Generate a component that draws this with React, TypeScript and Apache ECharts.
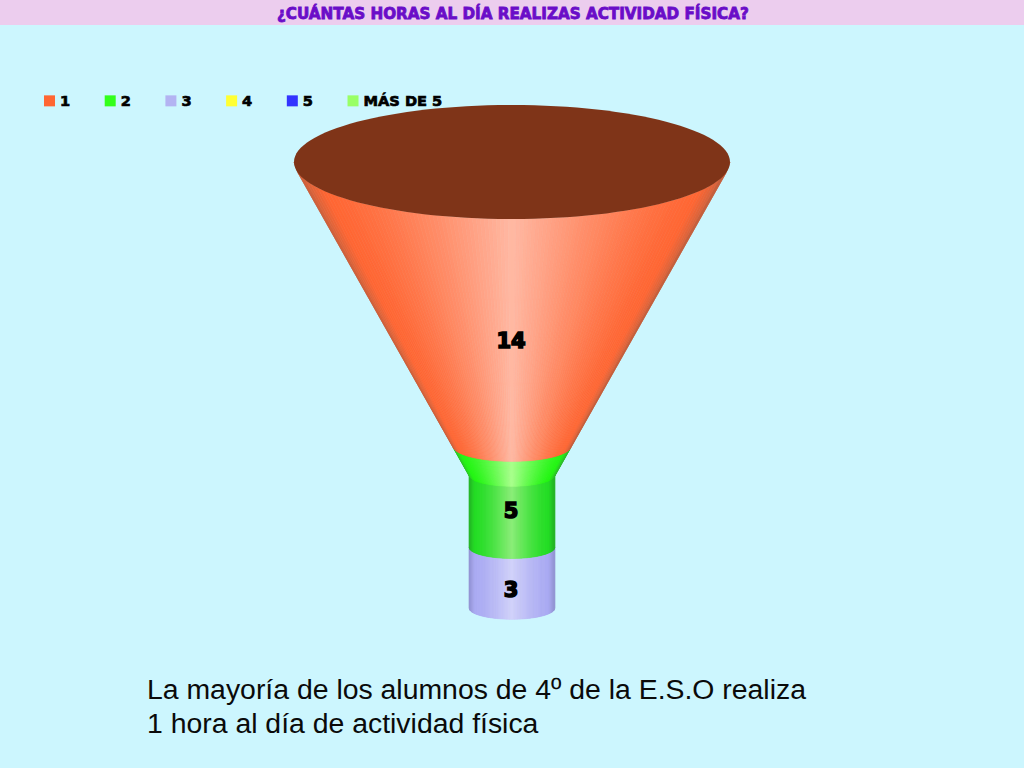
import React, { useEffect, useRef } from "react";
import * as echarts from "echarts";

const titleText = "¿CUÁNTAS HORAS AL DÍA REALIZAS ACTIVIDAD FÍSICA?";
const noteLines = [
  "La mayoría de los alumnos de 4º de la E.S.O realiza",
  "1 hora al día de actividad física",
];
const categories = ["1", "2", "3", "4", "5", "MÁS DE 5"];
const counts = [14, 5, 3, 0, 0, 0];
const swatchColors = ["#ff6633", "#33ff1a", "#b3b3f2", "#ffff33", "#3333ff", "#99ff66"];
// [edge, body, highlight] shading of each cylinder/cone surface
const coneShades = [
  ["#c0603f", "#ff6633", "#ffb9a4"],
  ["#2fb82f", "#22f511", "#aaff8c"],
  ["#9090d0", "#aaaaf2", "#d2d2fa"],
  ["#c0c020", "#ffff33", "#ffffa0"],
  ["#2020b0", "#3333ff", "#9090ff"],
  ["#70c050", "#99ff66", "#d0ffb0"],
];
const neckShades = [
  ["#c0603f", "#ff6633", "#ffb9a4"],
  ["#22b022", "#22dd22", "#8ced78"],
  ["#9090d0", "#aaaaf2", "#d2d2fa"],
  ["#c0c020", "#ffff33", "#ffffa0"],
  ["#2020b0", "#3333ff", "#9090ff"],
  ["#70c050", "#99ff66", "#d0ffb0"],
];

const NECK_RATIO = 0.197; // neck radius / mouth radius
const NECK_START = 15.44; // value at which the cone becomes the neck
const TILT = 0.2615; // ellipse ry / rx
const STRIPS = 110;

function hex(c: string) {
  return [1, 3, 5].map((i) => parseInt(c.slice(i, i + 2), 16));
}
function mix(a: string, b: string, k: number) {
  const A = hex(a);
  const B = hex(b);
  return `rgb(${A.map((v, i) => Math.round(v + (B[i] - v) * k)).join(",")})`;
}
function shadeAt(t: number, s: string[]) {
  const u = Math.abs(t);
  if (u > 0.86) return mix(s[1], s[0], (u - 0.86) / 0.14);
  const k = 1 - u / 0.86;
  return mix(s[1], s[2], Math.pow(k, 1.4));
}
function radiusAt(v: number) {
  if (v >= NECK_START) return NECK_RATIO;
  return 1 - ((1 - NECK_RATIO) * v) / NECK_START;
}

function frustum(cx: number, unit: number, y0: number, r0: number, y1: number, r1: number, shades: string[]) {
  const out: any[] = [];
  const R0 = r0 * unit;
  const R1 = r1 * unit;
  const rim = (R: number, y: number, t: number) => [cx + R * t, y + R * TILT * Math.sqrt(Math.max(0, 1 - t * t))];
  for (let i = 0; i < STRIPS; i++) {
    const a = -1 + (2 * i) / STRIPS;
    const b = -1 + (2 * (i + 1)) / STRIPS;
    const color = shadeAt((a + b) / 2, shades);
    out.push({
      type: "polygon",
      shape: { points: [rim(R0, y0, a), rim(R0, y0, b), rim(R1, y1, b), rim(R1, y1, a)] },
      style: { fill: color, stroke: color, lineWidth: 0.7 },
      silent: true,
    });
  }
  return out;
}

function makeRender(index: number) {
  return (_params: any, api: any) => {
    const start = api.value(0);
    const end = api.value(1);
    const count = api.value(2);
    if (!count) return { type: "group", children: [] };
    const cx = api.coord([0, 0])[0];
    const unit = api.coord([1, 0])[0] - cx;
    const yOf = (v: number) => api.coord([0, v])[1];
    const children: any[] = [];
    const parts: [number, number, string[]][] = [];
    if (start < NECK_START && end > NECK_START) {
      parts.push([start, NECK_START, coneShades[index]]);
      parts.push([NECK_START, end, neckShades[index]]);
    } else {
      parts.push([start, end, start >= NECK_START ? neckShades[index] : coneShades[index]]);
    }
    parts.reverse().forEach(([a, b, s]) => {
      children.push(...frustum(cx, unit, yOf(a), radiusAt(a), yOf(b), radiusAt(b), s));
    });
    if (start === 0) {
      children.push({
        type: "ellipse",
        shape: { cx, cy: yOf(0), rx: unit, ry: unit * TILT },
        style: { fill: "#7f3418" },
        silent: true,
      });
    }
    const front0 = yOf(start) + radiusAt(start) * unit * TILT;
    const front1 = yOf(end) + radiusAt(end) * unit * TILT;
    children.push({
      type: "text",
      style: {
        text: String(count),
        x: cx - 1,
        y: (front0 + front1) / 2 + 1,
        align: "center",
        verticalAlign: "middle",
        font: "bold 21px 'DejaVu Sans'",
        fill: "#000",
        stroke: "#000",
        lineWidth: 1.6,
      },
      silent: true,
    });
    return { type: "group", children };
  };
}

export default function App() {
  const ref = useRef<HTMLDivElement>(null);
  useEffect(() => {
    const chart = echarts.init(ref.current!, undefined, { renderer: "svg" });
    let running = 0;
    const series = categories.map((name, i) => {
      const start = running;
      running += counts[i];
      return {
        type: "custom" as const,
        name,
        z: 10 - i,
        coordinateSystem: "cartesian2d",
        clip: false,
        silent: true,
        itemStyle: { color: swatchColors[i] },
        renderItem: makeRender(i),
        data: [[start, running, counts[i]]],
      };
    });
    chart.setOption({
      animation: false,
      backgroundColor: "#ccf6fe",
      title: {
        text: titleText,
        left: 277,
        top: 6,
        padding: 0,
        textStyle: {
          color: "#6a0dc8",
          fontFamily: "'DejaVu Sans'",
          fontWeight: "bold",
          fontSize: 15.2,
          textBorderColor: "#6a0dc8",
          textBorderWidth: 0.8,
        },
        z: 20,
      },
      legend: {
        data: categories,
        left: 44,
        top: 93,
        padding: 0,
        itemWidth: 11,
        itemHeight: 11,
        itemGap: 34.2,
        icon: "rect",
        selectedMode: false,
        textStyle: {
          color: "#000",
          fontFamily: "'DejaVu Sans'",
          fontWeight: "bold",
          fontSize: 14.6,
          textBorderColor: "#000",
          textBorderWidth: 0.7,
        },
      },
      grid: { left: 294, width: 436, top: 162, height: 446 },
      xAxis: { type: "value", min: -1, max: 1, show: false },
      yAxis: { type: "value", min: 0, max: 22, inverse: true, show: false },
      graphic: [
        {
          type: "rect",
          z: -1,
          shape: { x: 0, y: 0, width: 1024, height: 25 },
          style: { fill: "#eccdee" },
          silent: true,
        },
        ...noteLines.map((text, i) => ({
          type: "text",
          x: 147,
          y: 675 + i * 34,
          silent: true,
          style: { text, font: "28.4px 'Liberation Sans'", fill: "#0a0a0a" },
        })),
      ],
      series,
    });
    return () => chart.dispose();
  }, []);
  return <div ref={ref} style={{ position: "fixed", left: 0, top: 0, width: 1024, height: 768 }} />;
}
